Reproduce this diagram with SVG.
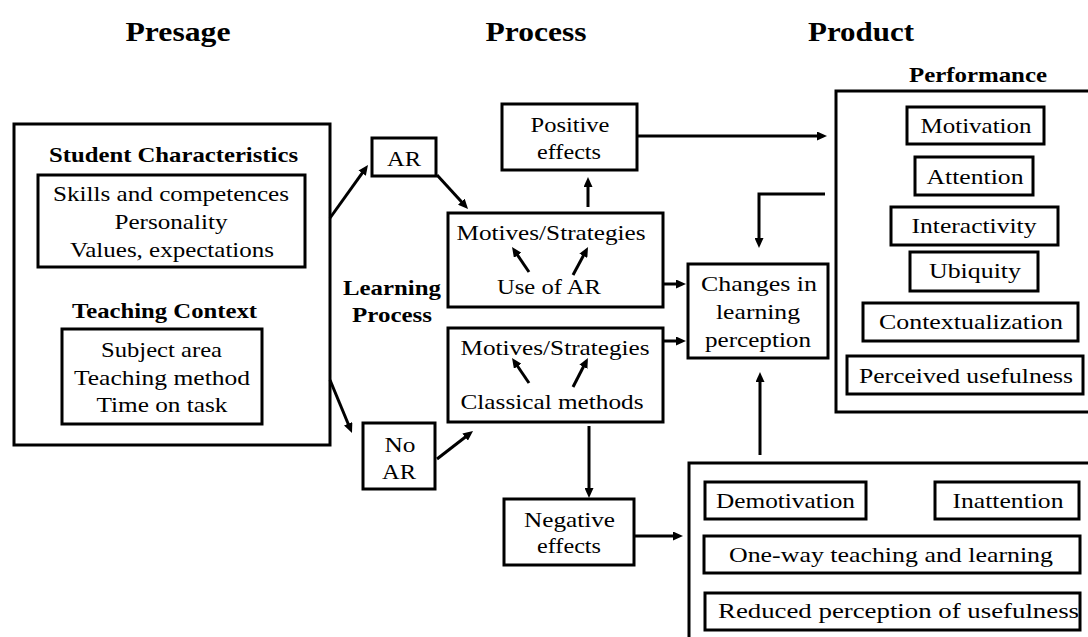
<svg xmlns="http://www.w3.org/2000/svg" width="1088" height="637" viewBox="0 0 1088 637">
<defs>
<marker id="ah" markerUnits="userSpaceOnUse" markerWidth="10" markerHeight="9" refX="4" refY="4.5" orient="auto">
<path d="M0,0 L10,4.5 L0,9 z" fill="#000"/>
</marker>
<style>
rect{fill:#fff;stroke:#000;stroke-width:3}
text{font-family:"Liberation Serif","Times New Roman",serif;font-size:22px;fill:#000;text-anchor:middle}
.b{font-weight:bold}
.t{font-size:27px;font-weight:bold}
.h{font-size:21px;font-weight:bold}
#connectors line,#connectors path{stroke:#000;stroke-width:3;fill:none;marker-end:url(#ah)}
</style>
</defs>
<rect x="0" y="0" width="1088" height="637" style="stroke:none"/>
<g id="titles">
<text class="t" x="178" y="41" textLength="105" lengthAdjust="spacingAndGlyphs">Presage</text>
<text class="t" x="536" y="41" textLength="101" lengthAdjust="spacingAndGlyphs">Process</text>
<text class="t" x="861" y="41" textLength="106" lengthAdjust="spacingAndGlyphs">Product</text>
</g>
<g id="presage">
<rect x="14" y="124" width="316" height="321"/>
<text class="b" x="173.5" y="162" textLength="249" lengthAdjust="spacingAndGlyphs">Student Characteristics</text>
<text class="b" x="164.5" y="318" textLength="185" lengthAdjust="spacingAndGlyphs">Teaching Context</text>
</g>
<g id="student">
<rect x="38" y="175" width="267" height="92"/>
<text x="171" y="201" textLength="236" lengthAdjust="spacingAndGlyphs">Skills and competences</text>
<text x="171" y="229" textLength="113" lengthAdjust="spacingAndGlyphs">Personality</text>
<text x="172" y="257" textLength="204" lengthAdjust="spacingAndGlyphs">Values, expectations</text>
</g>
<g id="context">
<rect x="62" y="329" width="200" height="95"/>
<text x="161.5" y="357" textLength="121" lengthAdjust="spacingAndGlyphs">Subject area</text>
<text x="162" y="385" textLength="176" lengthAdjust="spacingAndGlyphs">Teaching method</text>
<text x="162" y="412" textLength="131" lengthAdjust="spacingAndGlyphs">Time on task</text>
</g>
<g id="ar">
<rect x="372" y="138" width="64" height="38"/>
<text x="404" y="166" textLength="34" lengthAdjust="spacingAndGlyphs">AR</text>
</g>
<g id="noar">
<rect x="363" y="423" width="72" height="66"/>
<text x="400" y="452" textLength="31" lengthAdjust="spacingAndGlyphs">No</text>
<text x="399" y="479" textLength="34" lengthAdjust="spacingAndGlyphs">AR</text>
</g>
<g id="learning-process">
<text class="h" x="392" y="295" textLength="98" lengthAdjust="spacingAndGlyphs">Learning</text>
<text class="h" x="392" y="322" textLength="80" lengthAdjust="spacingAndGlyphs">Process</text>
</g>
<g id="positive">
<rect x="502" y="104" width="135" height="66"/>
<text x="570" y="132" textLength="79" lengthAdjust="spacingAndGlyphs">Positive</text>
<text x="569" y="159" textLength="64" lengthAdjust="spacingAndGlyphs">effects</text>
</g>
<g id="motives-ar">
<rect x="448" y="213" width="215" height="94"/>
<text x="551" y="240" textLength="189" lengthAdjust="spacingAndGlyphs">Motives/Strategies</text>
<text x="549" y="294" textLength="104" lengthAdjust="spacingAndGlyphs">Use of AR</text>
</g>
<g id="motives-classical">
<rect x="448" y="328" width="215" height="94"/>
<text x="555" y="355" textLength="189" lengthAdjust="spacingAndGlyphs">Motives/Strategies</text>
<text x="552" y="409" textLength="183" lengthAdjust="spacingAndGlyphs">Classical methods</text>
</g>
<g id="negative">
<rect x="504" y="499" width="130" height="66"/>
<text x="569.5" y="527" textLength="91" lengthAdjust="spacingAndGlyphs">Negative</text>
<text x="569" y="553" textLength="64" lengthAdjust="spacingAndGlyphs">effects</text>
</g>
<g id="changes">
<rect x="688" y="264" width="140" height="94"/>
<text x="759" y="291" textLength="116" lengthAdjust="spacingAndGlyphs">Changes in</text>
<text x="758" y="319" textLength="84" lengthAdjust="spacingAndGlyphs">learning</text>
<text x="758" y="347" textLength="106" lengthAdjust="spacingAndGlyphs">perception</text>
</g>
<g id="performance">
<text class="h" x="978" y="82" textLength="138" lengthAdjust="spacingAndGlyphs">Performance</text>
<rect x="836" y="91" width="270" height="321"/>
</g>
<g id="motivation"><rect x="907" y="107" width="137" height="37"/><text x="976" y="133" textLength="111" lengthAdjust="spacingAndGlyphs">Motivation</text></g>
<g id="attention"><rect x="915" y="157" width="118" height="38"/><text x="975" y="184" textLength="97" lengthAdjust="spacingAndGlyphs">Attention</text></g>
<g id="interactivity"><rect x="891" y="207" width="167" height="38"/><text x="974" y="233" textLength="125" lengthAdjust="spacingAndGlyphs">Interactivity</text></g>
<g id="ubiquity"><rect x="910" y="252" width="128" height="39"/><text x="975" y="278" textLength="92" lengthAdjust="spacingAndGlyphs">Ubiquity</text></g>
<g id="contextualization"><rect x="863" y="303" width="215" height="38"/><text x="971" y="329" textLength="184" lengthAdjust="spacingAndGlyphs">Contextualization</text></g>
<g id="perceived"><rect x="847" y="356" width="236" height="38"/><text x="966" y="383" textLength="214" lengthAdjust="spacingAndGlyphs">Perceived  usefulness</text></g>
<g id="negative-outcomes">
<rect x="689" y="463" width="420" height="200"/>
</g>
<g id="demotivation"><rect x="705" y="482" width="161" height="37"/><text x="785.5" y="508" textLength="139" lengthAdjust="spacingAndGlyphs">Demotivation</text></g>
<g id="inattention"><rect x="935" y="482" width="144" height="37"/><text x="1008" y="508" textLength="111" lengthAdjust="spacingAndGlyphs">Inattention</text></g>
<g id="oneway"><rect x="704" y="536" width="376" height="37"/><text x="891" y="562" textLength="324" lengthAdjust="spacingAndGlyphs">One-way teaching and learning</text></g>
<g id="reduced"><rect x="705" y="593" width="375" height="37"/><text x="898.5" y="618" textLength="361" lengthAdjust="spacingAndGlyphs">Reduced perception of usefulness</text></g>
<g id="connectors">
<line x1="330" y1="218" x2="364.5" y2="169.9"/>
<line x1="437" y1="175" x2="464" y2="204.6"/>
<line x1="330" y1="380" x2="349.7" y2="427.5"/>
<line x1="437" y1="459" x2="468.3" y2="434.7"/>
<line x1="588" y1="207" x2="588" y2="183"/>
<line x1="637" y1="136" x2="821" y2="136"/>
<path d="M825,194 H759 V242"/>
<line x1="663" y1="284" x2="680" y2="284"/>
<line x1="663" y1="341" x2="680" y2="341"/>
<line x1="589" y1="426" x2="589" y2="492"/>
<line x1="634" y1="536" x2="677" y2="536"/>
<line x1="760" y1="455" x2="760" y2="378"/>
<line x1="529" y1="272" x2="515.4" y2="252"/>
<line x1="573" y1="275" x2="585.2" y2="252.3"/>
<line x1="529" y1="383" x2="515.4" y2="363"/>
<line x1="573" y1="387" x2="585.2" y2="363.3"/>
</g>
</svg>
